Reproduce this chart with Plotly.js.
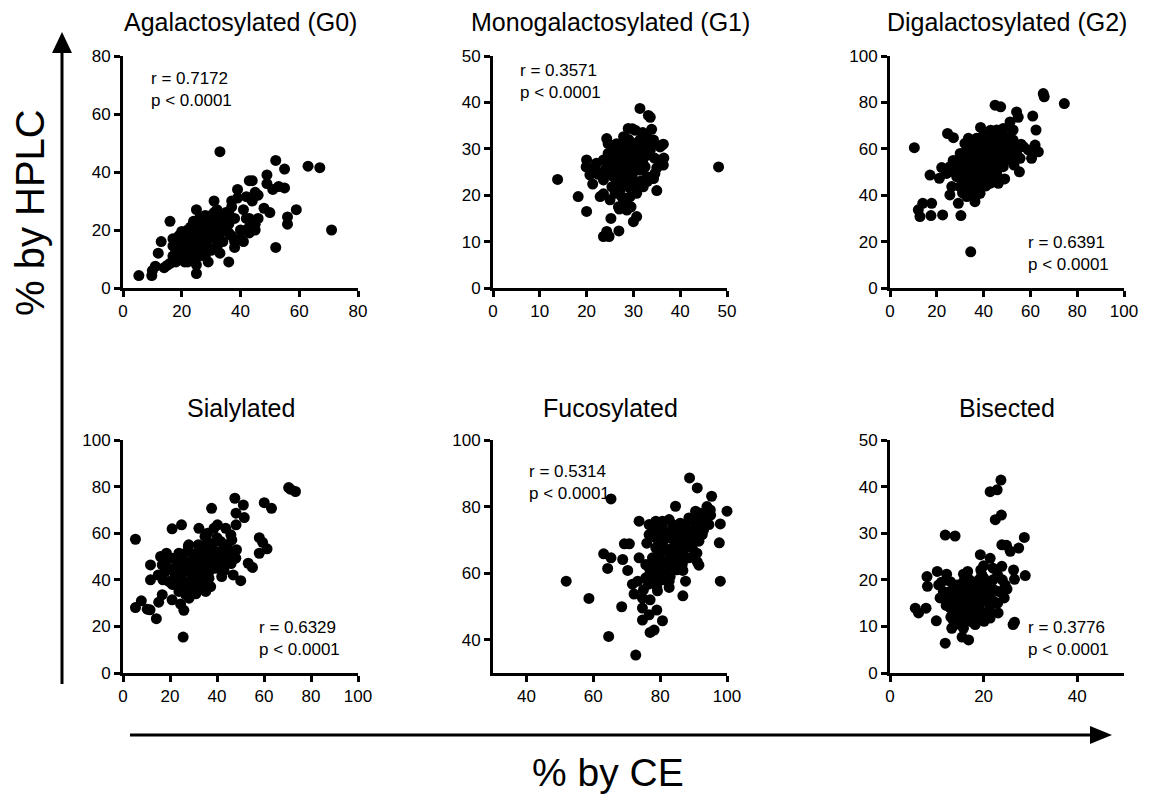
<!DOCTYPE html>
<html>
<head>
<meta charset="utf-8">
<script src="https://cdn.plot.ly/plotly-3.0.1.min.js"></script>
<style>html,body{margin:0;padding:0;background:#fff;}#chart{width:1151px;height:798px;}</style>
</head>
<body>
<div id="chart"></div>
<script>
// ---- Data: [% by CE, % by HPLC] ----
const panelTitles = ["Agalactosylated (G0)", "Monogalactosylated (G1)", "Digalactosylated (G2)", "Sialylated", "Fucosylated", "Bisected"];
const rValues = ["0.7172", "0.3571", "0.6391", "0.6329", "0.5314", "0.3776"];
const pText = "p < 0.0001";
const xLabel = "% by CE";
const yLabel = "% by HPLC";

const g0Points = [[5.4,4.3],[9.8,4.3],[10,6],[11,7.5],[12,12],[13,16],[14,7],[15,7.8],[16,8.5],[16,23],[17,14.5],[17,11],[18,9],[18,13],[19,18],[19,15],[19,11],[20,19.5],[20,16],[20,13],[20,10],[21,17],[21,14],[21,12],[21,9],[22,20],[22,18],[22,15],[22,11],[23,16],[23,13],[23,19],[24,17],[24,23],[24,10],[24,14],[25,27],[25,5],[25,8],[25,12],[25,19],[26,16],[26,21],[27,13],[27,18],[27,23],[28,11],[28,15],[28,20],[28,25],[29,9],[29,17],[29,22],[30,25],[30,13],[30,19],[31,30],[31,21],[31,26],[32,16],[32,23],[32,14],[33,47],[33,19],[33,25],[33,12],[34,22],[34,16],[34,20],[35,24],[35,26],[36,9],[36,22],[36,19],[37,18],[37,30],[38,14],[38,16],[39,34],[39,31],[40,17],[41,27],[41,16],[42,31.5],[42,20],[43,37],[43,24],[43,21],[44,37],[44,20],[45,33],[45,20],[46,32],[46,24],[48,27.5],[49,39],[49,36],[50,26],[51,34],[52,14],[52,44],[53,35],[55,41],[55,34.5],[56,24.5],[56,22],[59,27],[63,42],[67,41.5],[71,20],
  [20,14.5],[21,15.5],[22,13],[23,14.5],[24,12],[25,15],[26,18],[27,15],[28,17],[29,19],[30,21],[31,18],[32,20],[33,22],[34,24],[19,12],[18,15],[17,17],[22,9],[26,11],[29,14],[30,23],[35,21],[23,21],[26,24],[32,27],[38,24],[36,26],[37,28],[40,20],[42,24],[43,19],[45,22],[44,30]];

const g1Points = [[13.8,23.4],[18.2,19.7],[20,16.5],[20,27.6],[19.9,26.1],[20.7,24.4],[21.3,22.4],[22.9,19.7],[23.6,20.3],[22.1,26.9],[23.6,11.1],[24.3,12.2],[24.8,11.1],[25.2,15],[26.9,12.3],[24.3,32.2],[27.9,32.6],[28.9,34.4],[30.4,34],[29.8,34.3],[31.4,38.7],[33.2,37.2],[33.6,36.8],[33.9,34.2],[35,25.9],[35,21],[36.1,30.8],[36.4,26.5],[48.2,26.1],[30,14.3],[30.7,15.4],[28.6,16.8],[26.8,17.5],[27.9,18.3],[29.3,19.7],[30.7,20.4],[32.1,21.8],[32.9,24],[30,23.3],[27.1,21.1],[26.4,22.6],[25.7,24],[25,24.7],[24.3,26.1],[24.6,29],[25.7,29.7],[27.1,28.3],[28.6,29.7],[30,31.2],[31.4,31.9],[32.9,32.6],[34.3,31.9],[35.7,30.4],[33.6,29.7],[32.1,28.3],[30.7,26.9],[28.6,26.1],[26.4,25.4],[27.9,24],[29.3,24.7],[25.4,21.8],[26.1,20.4],[27.5,19.7],[28.6,19],[24.6,31.1],[26.4,31.1],[31.4,29],[33.9,30.8],[36.4,31],[32.5,26.1],[30,28.3],[27.5,29.7],[25.7,27.6],[23.6,27.6],[21.8,26.1],[31.4,25.4],[34.6,24.7],[34.3,23.6],[23.6,23.3],[30,25],[28.2,27.5],[29.6,27.5],[28.9,21.8],[26.4,26.9],[27.9,26.9],[30.4,29.7],[31.8,30.4],[32.9,28.6],
  [26,27],[27,26],[28,25.5],[29,26],[30,27],[31,27.5],[32,27],[29,28.5],[26.5,28.5],[28,30.5],[29.5,30.5],[31,30],[27,23.5],[28.5,22.5],[30,22],[26,24],[24.5,28],[32,33.5],[33,31],[34.5,28],[35.5,27.5],[29,32],[25,19],[27,17],[29.5,17.5],[31.5,23],[33,23],[24,25.5],[22.5,24.5],[36.5,28]];

const g2Points = [[10.4,60.5],[12.1,33.7],[12.8,30.8],[14,36.5],[17.8,36.5],[17.5,31.2],[17.1,48.7],[21.1,47.3],[22.5,31.5],[22.1,51.9],[24.6,66.6],[27.1,64.8],[25.1,50.1],[25.6,40.1],[26.4,43.7],[29.2,36.5],[30.3,31.2],[29.9,51.6],[32.8,39.4],[34.5,15.6],[36.3,37.2],[38.5,40.8],[38.7,69.2],[33.5,64.5],[37,64.5],[44.9,78.8],[47.3,78.1],[42.7,45.1],[46.3,45.1],[51.3,71.6],[54.1,75.9],[54.8,73.6],[52.6,68.1],[55.3,50.1],[55.6,55.9],[57,60.9],[61,74.1],[62.4,68.1],[60.5,55.9],[62,61.6],[63.4,58.7],[65.5,83.8],[65.9,82.4],[74.5,79.5],[59.1,59.5],[29.9,56.6],[32.8,59.5],[31.3,55.2],[34.2,58],[37,60.9],[39.9,63.8],[42.7,66.6],[45.6,68.1],[48.4,68.8],[49.9,65.2],[47,62.3],[44.2,59.5],[41.3,56.6],[38.5,53.7],[35.6,50.9],[32.8,48],[31.3,45.1],[34.2,45.1],[37,48],[39.9,49.4],[42.7,50.9],[45.6,53.7],[48.4,56.6],[51.3,59.5],[52.6,63.8],[49.9,58],[47,52.3],[44.2,49.4],[41.3,46.6],[38.5,43.7],[35.6,42.3],[32.8,52.3],[28.5,53.7],[27.1,50.9],[25.6,52.3],[24.2,49.4],[28.5,48],[29.9,43.7],[35.6,56.6],[38.5,59.5],[41.3,62.3],[44.2,65.2],[39.9,58],[42.7,55.2],[45.6,58],[48.4,60.9],[54.1,58],[51.3,55.2],[48.4,52.3],[45.6,49.4],[42.7,48],[34.2,62.3],[32,62.3],[35.6,53.7],[37,52.3],[39.2,50.9],[42,53],[44.8,55.6],[47.6,58.5],
  [33,55],[36,55],[39,56],[41,59],[44,62],[46,64],[48,66],[50,62],[40,52],[43,51],[36,47],[33,50],[30,48],[38,46],[41,44],[44,46],[47,55],[50,56],[53,61],[56,62],[46,60],[35,60],[38,62],[30,58],[27,55],[31,41],[34,42],[37,40],[32,46],[40,66],[43,68],[49,47],[53,53]];

const sialPoints = [[5.3,57.4],[5.3,28.1],[7.8,31],[10.3,27.4],[11.5,27.1],[14.2,23.3],[11.7,46.4],[11.7,40],[15,42.1],[15.2,30.4],[16.7,33.6],[16,50],[18.5,51.4],[20.9,61.9],[24.9,63.6],[25.6,15.4],[25.9,26.9],[24.5,29.6],[20.9,31.4],[19.5,39.3],[22.1,43.6],[19.5,45],[23.8,51.4],[27.8,54.3],[28.1,35],[29.5,39.3],[32.3,62.1],[34.9,58.6],[35.9,56.4],[35.2,35],[37.7,70.7],[38.7,62.1],[40.2,63.6],[41.6,56.4],[42,41.4],[43.7,62.1],[45.9,59.3],[46.3,57.1],[47.6,75],[48.1,68.6],[48.1,63.6],[48.3,52.9],[46.9,42.1],[50.1,39.6],[51.2,72.1],[51.6,66.7],[53.3,47.1],[55.1,45.3],[58,58.1],[59.4,56.1],[58,51.4],[61.3,53.3],[60.1,73.1],[63.2,70.7],[70.5,79.6],[71.2,78.9],[73.4,77.9],[20.9,49.3],[23.1,46.4],[24.5,42.1],[26.7,39.3],[28.1,43.6],[29.5,46.4],[30.9,49.3],[32.3,52.1],[33.8,46.4],[35.2,43.6],[36.6,46.4],[38,49.3],[39.5,52.1],[40.9,49.3],[42.3,46.4],[43.7,49.3],[45.2,50.7],[39.5,45],[36.6,40.7],[33.8,37.9],[30.9,36.4],[28.1,32.1],[26.7,33.6],[23.8,35],[22.4,37.9],[25.2,36.4],[29.5,42.1],[32.3,42.1],[35.2,39.3],[37.3,37.1],[30.9,39.3],[19.5,49.3],[18.1,43.6],[16.7,46.4],[22.4,49.3],[25.2,49.3],[27.3,52.1],[36.6,52.1],[34.4,50],[41.6,52.1],[44.4,55],[45.2,47.9],[48,49.3],
  [27,45],[29,48],[31,44],[33,48],[35,50],[37,44],[39,47],[41,45],[43,44],[31,34],[33,36],[35,37],[27,38],[25,40],[24,45],[26,47],[30,51],[32,55],[34,54],[38,55],[40,58],[36,60],[42,51],[44,53],[46,47],[22,41],[21,38],[17,40],[37,53],[28,55]];

const fucoPoints = [[51.9,57.6],[58.7,52.4],[64.6,41],[65.3,82.3],[63.1,65.8],[64.3,61.4],[65.3,64.6],[68.5,49.9],[69.3,68.8],[70.8,68.8],[68.8,64.1],[70.3,60.8],[72.7,35.4],[71.7,56.7],[72.2,53.7],[73.7,75.6],[73.7,64.6],[74.7,52.5],[74.7,49.5],[74.7,45.9],[76.7,47.5],[77,42.2],[78.2,42.9],[79,48.9],[80.7,45.7],[76.5,56.7],[79.2,54.7],[82.7,55.7],[84.6,80.1],[86.8,53.2],[88.8,88.6],[91.1,85.6],[95.4,83.1],[100,78.6],[98,74.8],[97.7,69.1],[98,57.6],[95.1,77.4],[91.1,63.4],[91.6,62.4],[86.8,60.8],[76.7,74.6],[78.7,75.6],[80.7,75.6],[82.7,76.1],[83.7,74.6],[84.7,72.6],[85.6,70.6],[87.6,69.6],[88.6,71.6],[90.6,73.6],[92.6,75.6],[93.6,77.6],[88.6,76.6],[90.6,78.6],[87.6,74.6],[89.6,70.6],[86.6,66.6],[84.6,64.6],[82.7,62.6],[80.7,60.6],[78.7,62.6],[76.7,61.6],[75.7,58.6],[77.7,58.6],[79.6,58.6],[81.7,60.6],[83.7,63.6],[85.6,65.6],[76.7,71.6],[78.7,70.6],[80.7,69.6],[82.7,70.6],[83.7,67.6],[81.7,66.6],[79.6,65.6],[77.7,64.6],[75.7,62.6],[78.7,67.6],[80.7,63.6],[84.6,61.6],[86.6,62.6],[88.6,64.6],[89.6,67.6],[92.6,71.6],[91.6,69.6],[94.6,74.6],[84.6,69.6],[87.6,57.6],[82.7,57.6],[73.3,57.6],[80.7,73.6],
  [80,72],[82,72],[84,74],[86,72],[88,73],[90,76],[92,78],[85,68],[87,67],[83,65],[81,68],[79,61],[77,60],[81,62],[83,59],[85,61],[90,72],[93,73],[95,79],[89,69],[78,73],[76,69],[79,56],[77,52],[75,55],[81,58],[87,64],[91,66],[86,75],[94,80]];

const bisPoints = [[5.4,13.9],[6.1,12.9],[7.7,13.9],[7.9,20.7],[8,18.6],[9.9,11.2],[10.1,21.8],[10.4,18.9],[11.8,6.4],[11.8,29.6],[13.9,29.4],[12.1,21.2],[15.7,21.2],[16.6,21.8],[15.4,7.7],[16.8,7.1],[15.7,9.6],[19.3,25.4],[19.4,22.1],[18.2,10.4],[20.1,11.1],[21.4,38.9],[22.9,39.3],[23.7,41.4],[22.5,32.9],[23.8,33.9],[21.4,24.6],[23.9,27.5],[24.9,27.4],[25.7,26.1],[27.5,26.8],[28.7,29.1],[28.9,20.9],[26.6,20.1],[26.4,22.1],[26.3,10.4],[26.6,10.9],[23.9,22.9],[23.1,12.9],[21.4,11.8],[24.6,18.9],[24.4,16.1],[23.2,17.5],[22.1,15.4],[12.9,17.5],[14.3,18.9],[15.7,19.6],[17.1,18.2],[18.6,19.6],[20,20.4],[13.6,16.1],[15,14.6],[16.4,16.1],[17.9,16.8],[19.3,16.1],[20.7,17.5],[12.9,13.9],[14.3,12.5],[15.7,13.2],[17.1,13.9],[18.6,14.6],[20,15.4],[13.6,11.1],[15,11.1],[16.4,11.8],[17.9,12.5],[12.1,16.1],[11.4,17.5],[10.7,16.1],[12.9,19.6],[15,17.5],[16.4,17.5],[17.9,18.9],[19.3,18.2],[20.7,18.9],[21.4,16.1],[21.4,14.3],[13.2,9.6],[14.3,15.4],[17.1,15],[18.6,17.5],[19.6,21.1],[16.1,11.1],
  [13,15],[14,17],[15,16],[16,15],[17,17],[18,16],[19,14],[20,13],[14,14],[16,13],[18,12],[15,18.5],[17,20],[19,20],[21,19],[22,20],[23,21],[22,18],[21,13],[13,12],[12,14.5],[17.5,11],[19,12],[14.5,10.5],[22,22.5],[20,23],[24,20],[25,18],[23,15],[11,19.5]];

const allPoints = [g0Points, g1Points, g2Points, sialPoints, fucoPoints, bisPoints];
const xRanges = [[0,80],[0,50],[0,100],[0,100],[30,100],[0,50]];
const yRanges = [[0,80],[0,50],[0,100],[0,100],[30,100],[0,50]];
const xTicks = [[0,20,40,60,80],[0,10,20,30,40,50],[0,20,40,60,80,100],[0,20,40,60,80,100],[40,60,80,100],[0,20,40]];
const yTicks = [[0,20,40,60,80],[0,10,20,30,40,50],[0,20,40,60,80,100],[0,20,40,60,80,100],[40,60,80,100],[0,10,20,30,40,50]];

// ---- Layout geometry (pixels) ----
const W = 1151, H = 798;
const px = v => v / W;
const py = v => 1 - v / H;
const cols = [[123,358],[493,727],[890,1124]];
const rows = [[56,288],[440,673]];
const statPos = [[149,89.5],[518,82],[1026,253.5],[257,638.5],[527,482],[1026,638.5]];
const FONT = "Liberation Sans, Arial, Helvetica, sans-serif";

const traces = [];
const layout = {
  width: W, height: H,
  margin: {l:0, r:0, t:0, b:0},
  paper_bgcolor: "#fff", plot_bgcolor: "rgba(0,0,0,0)",
  showlegend: false,
  font: {family: FONT, color: "#000"},
  annotations: [], shapes: []
};

allPoints.forEach((pts, i) => {
  const n = i + 1;
  const xa = n === 1 ? "x" : "x" + n;
  const ya = n === 1 ? "y" : "y" + n;
  traces.push({
    type: "scatter", mode: "markers",
    x: pts.map(p => p[0]), y: pts.map(p => p[1]),
    xaxis: xa, yaxis: ya,
    cliponaxis: false,
    marker: {color: "#000", size: 11, line: {width: 0}},
    hoverinfo: "x+y"
  });
  const c = cols[i % 3], r = rows[Math.floor(i / 3)];
  const axCommon = {
    showline: true, linewidth: 3, linecolor: "#000",
    ticks: "outside", ticklen: 6, tickwidth: 3, tickcolor: "#000",
    showgrid: false, zeroline: false,
    tickfont: {family: FONT, size: 17, color: "#000"},
    tickmode: "array", fixedrange: true
  };
  layout["xaxis" + (n === 1 ? "" : n)] = Object.assign({}, axCommon, {
    domain: [px(c[0]), px(c[1])], range: xRanges[i], tickvals: xTicks[i],
    anchor: ya
  });
  layout["yaxis" + (n === 1 ? "" : n)] = Object.assign({}, axCommon, {
    domain: [py(r[1]), py(r[0])], range: yRanges[i], tickvals: yTicks[i],
    anchor: xa
  });
  // panel title
  layout.annotations.push({
    xref: "paper", yref: "paper", x: px((c[0] + c[1]) / 2), y: py(i < 3 ? 22 : 408),
    xanchor: "center", yanchor: "middle", showarrow: false,
    text: panelTitles[i], font: {family: FONT, size: 25, color: "#000"}
  });
  // statistics
  layout.annotations.push({
    xref: "paper", yref: "paper", x: px(statPos[i][0]), y: py(statPos[i][1]),
    xanchor: "left", yanchor: "middle", align: "left", showarrow: false,
    text: "r = " + rValues[i] + "<br>" + pText,
    font: {family: FONT, size: 17, color: "#000"}
  });
});

// overall axis labels
layout.annotations.push({
  xref: "paper", yref: "paper", x: px(30), y: py(213), textangle: -90,
  xanchor: "center", yanchor: "middle", showarrow: false,
  text: yLabel, font: {family: FONT, size: 40, color: "#000"}
});
layout.annotations.push({
  xref: "paper", yref: "paper", x: px(608), y: py(772),
  xanchor: "center", yanchor: "middle", showarrow: false,
  text: xLabel, font: {family: FONT, size: 39, color: "#000"}
});

// arrows
layout.shapes.push({type: "line", xref: "paper", yref: "paper", x0: px(62), x1: px(62), y0: py(684), y1: py(50), line: {color: "#000", width: 3}});
layout.shapes.push({type: "path", xref: "paper", yref: "paper",
  path: `M ${px(52)} ${py(53)} L ${px(72)} ${py(53)} L ${px(62)} ${py(32)} Z`,
  fillcolor: "#000", line: {color: "#000", width: 0}});
layout.shapes.push({type: "line", xref: "paper", yref: "paper", x0: px(130), x1: px(1092), y0: py(735), y1: py(735), line: {color: "#000", width: 3}});
layout.shapes.push({type: "path", xref: "paper", yref: "paper",
  path: `M ${px(1090)} ${py(726)} L ${px(1090)} ${py(744)} L ${px(1112)} ${py(735)} Z`,
  fillcolor: "#000", line: {color: "#000", width: 0}});

Plotly.newPlot("chart", traces, layout, {displayModeBar: false, staticPlot: true});
</script>
</body>
</html>
